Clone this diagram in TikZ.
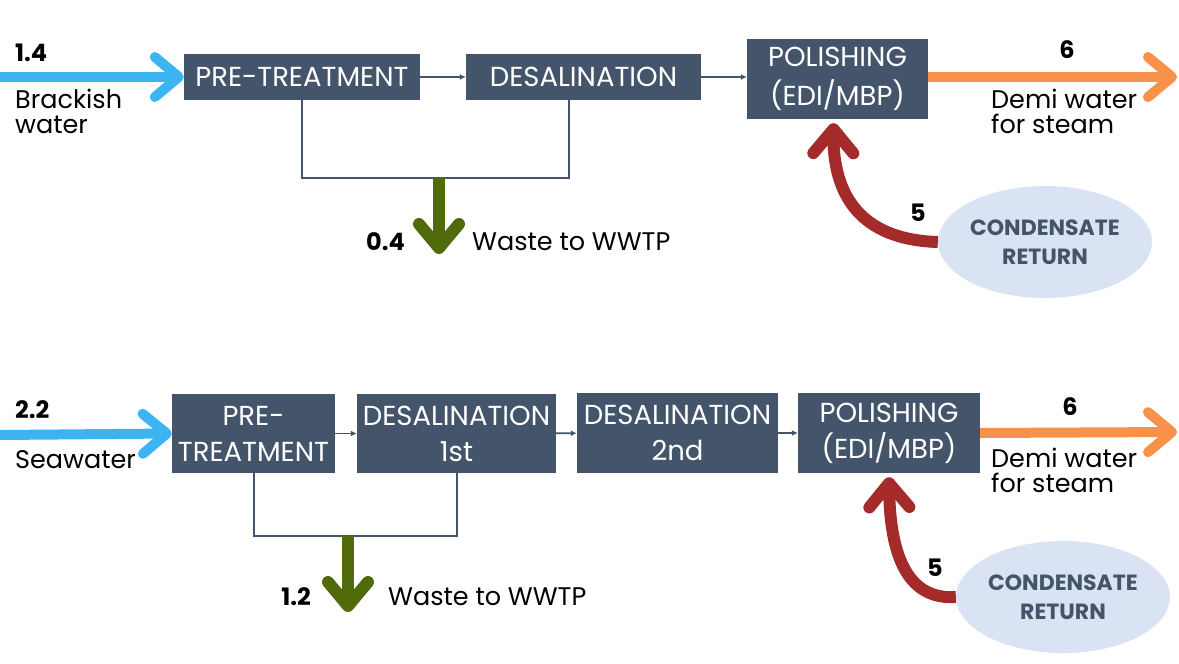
\documentclass[tikz,border=0pt]{standalone}
\usepackage{fontspec}
\setmainfont{Poppins}
\usetikzlibrary{arrows.meta,shapes.geometric,calc}
\definecolor{boxc}{HTML}{44546A}
\definecolor{bluec}{HTML}{3DB4F2}
\definecolor{orangec}{HTML}{F8914A}
\definecolor{greenc}{HTML}{506A0C}
\definecolor{redc}{HTML}{A52A2A}
\definecolor{ellc}{HTML}{DAE3F3}
\begin{document}
\begin{tikzpicture}[x=1pt,y=-1pt,
  proc/.style={draw=none,fill=boxc,text=white,inner sep=0pt,font=\fontsize{27.5}{36}\selectfont,align=center},
  thin/.style={draw=boxc,line width=1.6pt,-{Latex[length=6pt,width=6pt]}},
  bracket/.style={draw=boxc,line width=2pt},
  fat/.style={line width=10pt,-{Straight Barb[length=24pt,width=40pt,round]}},
  lbl/.style={inner sep=0pt,font=\fontsize{25.5}{25}\selectfont,align=left,text=black},
  num/.style={inner sep=0pt,font=\bfseries\fontsize{24}{24}\selectfont,text=black},
  ell/.style={ellipse,fill=ellc,inner sep=0pt,minimum width=214pt,minimum height=112pt,text=boxc,font=\bfseries\fontsize{22}{29}\selectfont,align=center}
]
\useasboundingbox (0,0) rectangle (1179,664);
% ---------- top row ----------
\node[proc,minimum width=236pt,minimum height=46pt] (pre1) at (302,77) {PRE-TREATMENT};
\node[proc,minimum width=235pt,minimum height=46pt] (des1) at (583.5,77) {DESALINATION};
\node[proc,minimum width=181pt,minimum height=80pt,font=\fontsize{27.5}{39}\selectfont] (pol1) at (837.5,79) {POLISHING\\(EDI/MBP)};
\node[ell] (cr1) at (1045,242) {CONDENSATE\\RETURN};
\coordinate (in1) at (0,77);
\coordinate (out1) at (1177,77);
\draw[fat,bluec] (in1) -- (pre1.west);
\draw[thin] (pre1) -- (des1);
\draw[thin] (des1) -- (des1 -| pol1.west);
\draw[fat,orangec] (pol1.east |- out1) -- (out1);
\coordinate (b1r) at ($(des1.south)+(-15,0)$);
\coordinate (b1c) at (439,178);
\draw[bracket] (pre1.south) |- (b1c) -| (b1r);
\coordinate (w1) at (439,254);
\draw[fat,greenc,line width=12pt] (b1c) -- (w1);
\draw[fat,redc,line width=12pt] (cr1.west) .. controls (870,240) and (833,205) .. ($(pol1.south)+(-4,4)$);
\node[num,anchor=west] (n14) at (15,53) {1.4};
\node[lbl,anchor=north west] (t1) at (15,89) {Brackish\\water};
\node[num] (n6a) at (1067,50) {6};
\node[lbl,anchor=north west] (t2) at (991,89) {Demi water\\for steam};
\node[num,anchor=east] (n04) at (405,242) {0.4};
\node[lbl,anchor=west] (t3) at (472,242) {Waste to WWTP};
\node[num] (n5a) at (918,213) {5};
% ---------- bottom row ----------
\node[proc,minimum width=163pt,minimum height=79pt] (pre2) at (253.5,433.5) {PRE-\\TREATMENT};
\node[proc,minimum width=199pt,minimum height=79pt] (da) at (456.5,433.5) {DESALINATION\\1st};
\node[proc,minimum width=201pt,minimum height=80pt] (db) at (677.5,433) {DESALINATION\\2nd};
\node[proc,minimum width=182pt,minimum height=80pt] (pol2) at (889,433) {POLISHING\\(EDI/MBP)};
\node[ell] (cr2) at (1063,597) {CONDENSATE\\RETURN};
\coordinate (in2) at (0,435);
\coordinate (out2) at (1177,432);
\draw[fat,bluec] (in2) -- (pre2.west);
\draw[thin] (pre2) -- (da);
\draw[thin] (da) -- (db);
\draw[thin] (db) -- (pol2);
\draw[fat,orangec] (pol2.east) -- (out2);
\coordinate (b2r) at (457,473);
\coordinate (b2c) at (348,536);
\draw[bracket] (pre2.south) |- (b2c) -| (b2r);
\coordinate (w2) at (348,612);
\draw[fat,greenc,line width=12pt] (b2c) -- (w2);
\draw[fat,redc,line width=12pt] (cr2.west) .. controls (910,600) and (890,560) .. ($(pol2.south)+(0,4)$);
\node[num,anchor=west] (n22) at (15,410) {2.2};
\node[lbl,anchor=west] (t4) at (15,460) {Seawater};
\node[num] (n6b) at (1070,407) {6};
\node[lbl,anchor=north west] (t5) at (991,448) {Demi water\\for steam};
\node[num,anchor=east] (n12) at (311,597) {1.2};
\node[lbl,anchor=west] (t6) at (388,597) {Waste to WWTP};
\node[num] (n5b) at (935,568) {5};
\end{tikzpicture}
\end{document}
